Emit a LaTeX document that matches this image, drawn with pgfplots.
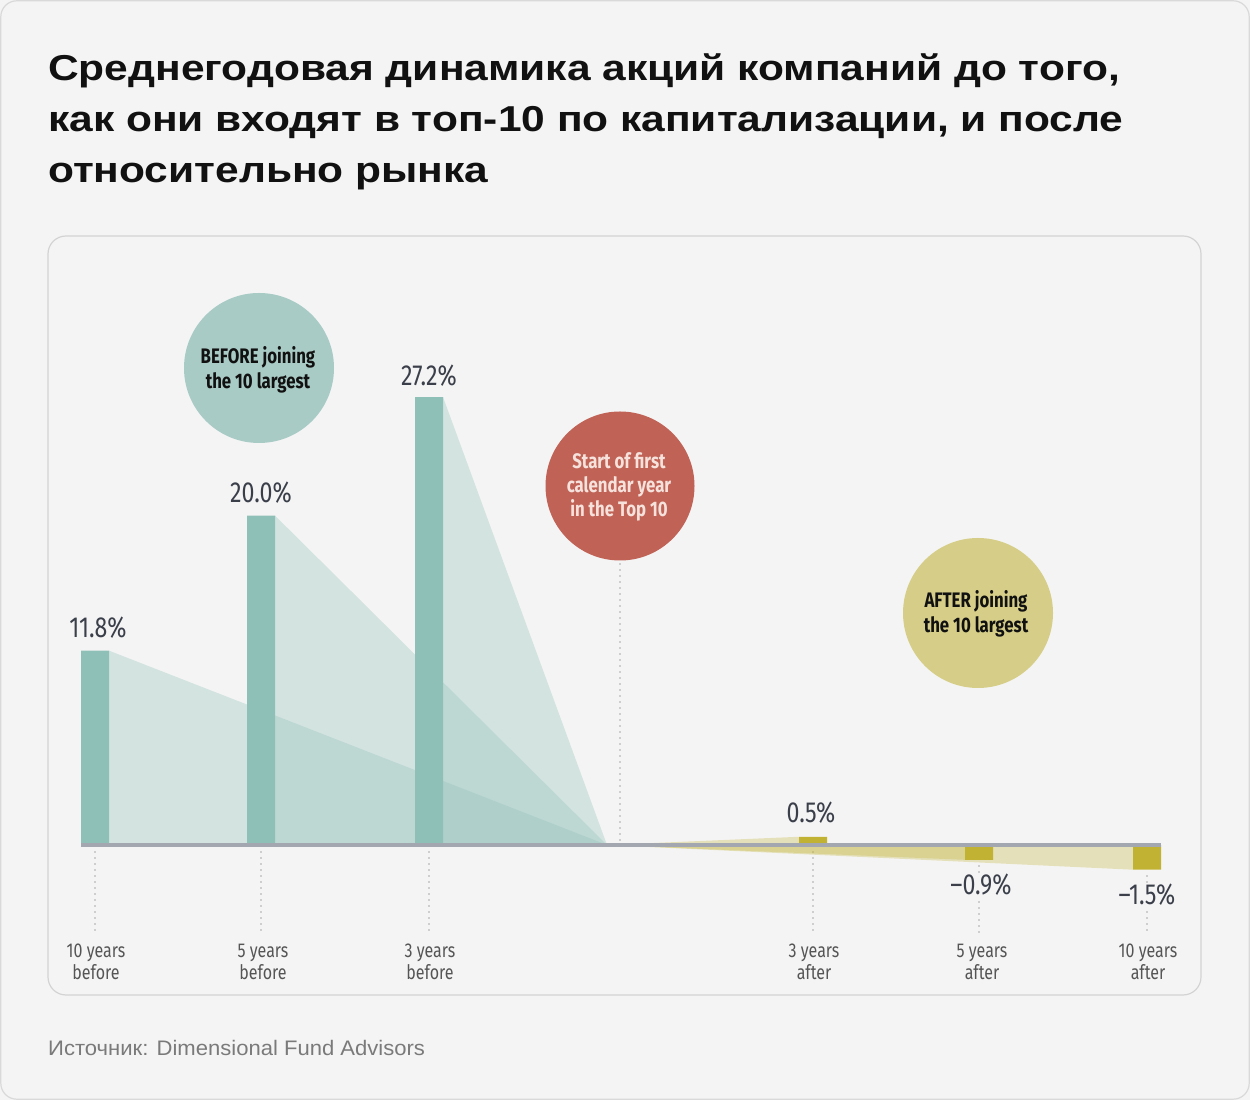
\documentclass[border=0pt]{standalone}
\usepackage{fontspec}
\setmainfont{Liberation Sans}
\newfontfamily\titlef[FakeStretch=1.18]{Liberation Sans}
\newfontfamily\srcf[FakeStretch=1.05]{Liberation Sans}
\newfontfamily\condf[FakeStretch=0.80]{Fira Sans}
\usepackage{pgfplots}
\pgfplotsset{compat=1.18}
\definecolor{bg}{HTML}{F4F4F4}
\definecolor{cardborder}{HTML}{D9D9D9}
\definecolor{panelborder}{HTML}{D3D3D3}
\definecolor{titlec}{HTML}{111111}
\definecolor{srcc}{HTML}{7A7A7A}
\definecolor{tealbar}{HTML}{8FC0B8}
\definecolor{tealcirc}{HTML}{A8CBC5}
\definecolor{redcirc}{HTML}{C06255}
\definecolor{redtext}{HTML}{F6E2DC}
\definecolor{yelbar}{HTML}{C2B234}
\definecolor{yelcirc}{HTML}{D6CE88}
\definecolor{basec}{HTML}{A3A8B0}
\definecolor{valc}{HTML}{3A3F4A}
\definecolor{catc}{HTML}{555555}
\definecolor{dotc}{HTML}{A8A8A8}
\begin{document}
\begin{tikzpicture}[x=1pt,y=1pt]
% card
\fill[bg] (0,0) rectangle (1250,1100);
\draw[rounded corners=16pt, draw=cardborder, line width=1.2pt, fill=bg] (0.8,0.8) rectangle (1249.2,1099.2);
% title
\begin{scope}[every node/.style={anchor=base west, inner sep=0pt, text=titlec, font=\titlef\fontsize{36}{50}\selectfont\bfseries}]
\node at (48,1100-81) {Среднегодовая динамика акций компаний до того,};
\node at (48,1100-132) {как они входят в топ-10 по капитализации, и после};
\node at (48,1100-183) {относительно рынка};
\end{scope}
% panel
\draw[rounded corners=18pt, draw=panelborder, line width=1.2pt, fill=bg] (48,1100-236) rectangle (1201,1100-995);
% source
\node[anchor=base west, inner sep=0pt, text=srcc, font=\srcf\fontsize{21}{25}\selectfont] at (48,1100-1056) {Источник: Dimensional Fund Advisors};
% circles
\fill[tealcirc] (259,1100-368) circle (75);
\fill[redcirc] (620,1100-486) circle (74.5);
\fill[yelcirc] (978,1100-613) circle (75);
\node[align=center, text=titlec, font=\condf\bfseries\fontsize{21}{25}\selectfont] at (258,1100-370) {BEFORE joining\\the 10 largest};
\node[align=center, text=redtext, font=\condf\bfseries\fontsize{21}{24}\selectfont] at (619,1100-487) {Start of first\\calendar year\\in the Top 10};
\node[align=center, text=titlec, font=\condf\bfseries\fontsize{21}{25}\selectfont] at (976,1100-614) {AFTER joining\\the 10 largest};
% dotted lines
\begin{scope}[dotc, line width=1.6pt, line cap=round, dash pattern=on 0pt off 6pt]
\draw (620,1100-564) -- (620,1100-842);
\draw (95,1100-852) -- (95,1100-935);
\draw (261,1100-852) -- (261,1100-935);
\draw (429,1100-852) -- (429,1100-935);
\draw (813,1100-852) -- (813,1100-935);
\draw (979,1100-866) -- (979,1100-935);
\draw (1147,1100-876) -- (1147,1100-935);
\end{scope}
\begin{axis}[x=1pt, y=16.47pt, xmin=48, xmax=1201, ymin=-9.107, ymax=36.976,
  hide axis, clip=false, at={(48pt,105pt)}, anchor=south west]
% before triangles
\addplot[fill=tealbar, fill opacity=0.32, draw=none] coordinates {(109,11.8)(607,0)} \closedcycle;
\addplot[fill=tealbar, fill opacity=0.32, draw=none] coordinates {(275,20.0)(607,0)} \closedcycle;
\addplot[fill=tealbar, fill opacity=0.32, draw=none] coordinates {(443,27.2)(607,0)} \closedcycle;
% after triangles
\addplot[fill=yelbar, fill opacity=0.30, draw=none] coordinates {(607,0)(799,0.5)} \closedcycle;
\addplot[fill=yelbar, fill opacity=0.30, draw=none] coordinates {(607,0)(965,-0.9)} \closedcycle;
\addplot[fill=yelbar, fill opacity=0.30, draw=none] coordinates {(607,0)(1133,-1.5)} \closedcycle;
% bars
\addplot[ybar, bar width=28pt, bar shift=0pt, fill=tealbar, draw=none] coordinates {(95,11.8)(261,20.0)(429,27.2)};
\addplot[ybar, bar width=28pt, bar shift=0pt, fill=yelbar, draw=none] coordinates {(813,0.5)(979,-0.9)(1147,-1.5)};
% baseline
\draw[basec, line width=4pt] (axis cs:81,0) -- (axis cs:1161,0);
% value labels
\begin{scope}[every node/.style={text=valc, font=\condf\fontsize{29}{30}\selectfont, inner sep=1pt}]
\node at (axis cs:98,13.18) {11.8\%};
\node at (axis cs:261,21.37) {20.0\%};
\node at (axis cs:429,28.48) {27.2\%};
\node at (axis cs:811,1.94) {0.5\%};
\node[fill=bg] at (axis cs:981,-2.43) {–0.9\%};
\node[fill=bg] at (axis cs:1147,-3.04) {–1.5\%};
\end{scope}
% category labels
\begin{scope}[every node/.style={text=catc, align=center, font=\condf\fontsize{20}{22}\selectfont, inner sep=0pt}]
\node at (axis cs:96,-7.10) {10 years\\before};
\node at (axis cs:263,-7.10) {5 years\\before};
\node at (axis cs:430,-7.10) {3 years\\before};
\node at (axis cs:814,-7.10) {3 years\\after};
\node at (axis cs:982,-7.10) {5 years\\after};
\node at (axis cs:1148,-7.10) {10 years\\after};
\end{scope}
\end{axis}
\end{tikzpicture}
\end{document}
